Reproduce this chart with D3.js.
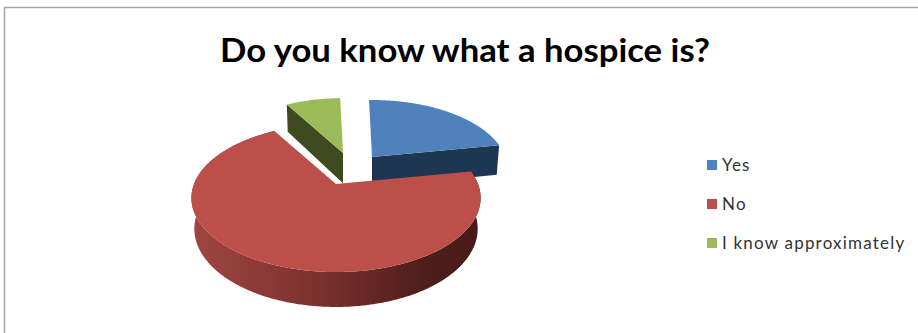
<!DOCTYPE html>
<html>
<head>
<meta charset="utf-8">
<script src="https://cdn.jsdelivr.net/npm/d3@7"></script>
<style>
  html, body { margin: 0; padding: 0; background: #fff; }
  svg { display: block; }
</style>
</head>
<body>
<svg id="chart" width="918" height="333"></svg>
<script>
const categories = ["Yes", "No", "I know approximately"];
const shares = [22.5, 69.5, 8];
const chartTitle = "Do you know what a hospice is?";

const topColors = ["#4f81bd", "#bd4f4b", "#9bbb59"];
const wallColors = ["#1f3653", "#a04643", "#3f4a20"];

// Exploded pie: each wedge has its own apex, and wedges that are pulled out are drawn smaller.
const pieCentre = { x: 336, y: 184 };
const wedgeLayout = [
  { dx: 36, dy: -27, scale: 0.94 },
  { dx: 0, dy: 0, scale: 1 },
  { dx: 7, dy: -31, scale: 0.9 }
];

// Perspective camera for a unit disc lying on a plane tilted away from the viewer.
const camera = { k: 142, b: 71.4, p: 0.189, q: 0.02, depth: 30.8 };

function project(angle, radius, z, wedge) {
  const px = Math.sin(angle) * radius * wedge.scale;
  const py = -Math.cos(angle) * radius * wedge.scale;
  const w = 1 - camera.p * py + camera.q * z;
  return [
    pieCentre.x + wedge.dx + camera.k * px / w,
    pieCentre.y + wedge.dy + (camera.b * py + camera.depth * z) / w
  ];
}

const svg = d3.select("#chart");
const line = d3.line();

const pie = d3.pie().sort(null).value(d => d)
  .startAngle(-1.5 * Math.PI / 180)
  .endAngle(358.5 * Math.PI / 180);
const arcs = pie(shares);

function arcPoints(a0, a1, z, wedge) {
  const n = Math.max(2, Math.ceil((a1 - a0) / 0.01));
  return d3.range(n + 1).map(i => project(a0 + (a1 - a0) * i / n, 1, z, wedge));
}

// Chart area frame, open on the right and at the bottom
svg.append("path")
  .attr("d", "M4.5,333V7.5H918")
  .attr("fill", "none")
  .attr("stroke", "#a6a6a6")
  .attr("stroke-width", 1.5);

svg.append("text")
  .attr("x", 465)
  .attr("y", 62)
  .attr("text-anchor", "middle")
  .attr("font-family", "Lato, sans-serif")
  .attr("font-weight", 700)
  .attr("font-size", 33)
  .attr("textLength", 490)
  .attr("lengthAdjust", "spacingAndGlyphs")
  .attr("fill", "#000")
  .text(chartTitle);

// Shading across the curved outer wall of the large wedge
const defs = svg.append("defs");
const grad = defs.append("linearGradient").attr("id", "wall-no")
  .attr("gradientUnits", "userSpaceOnUse")
  .attr("x1", 190).attr("x2", 480).attr("y1", 0).attr("y2", 0);
[[0, wallColors[1]], [0.45, "#7a302d"], [0.8, "#4f1e1c"], [1, "#471a18"]].forEach(([o, c]) =>
  grad.append("stop").attr("offset", o).attr("stop-color", c));

// Back wedges first, the large one goes over them
[0, 2, 1].forEach(i => {
  const a = arcs[i];
  const wedge = wedgeLayout[i];
  const apex = project(0, 0, 0, wedge);
  const apexLow = project(0, 0, 1, wedge);

  if (i === 1) {
    const wall = arcPoints(a.startAngle, a.endAngle, 0, wedge)
      .concat(arcPoints(a.startAngle, a.endAngle, 1, wedge).reverse());
    svg.append("path").attr("d", line(wall) + "Z").attr("fill", "url(#wall-no)");
  } else {
    // Straight cut face that looks towards the viewer
    const cut = i === 0 ? a.endAngle : a.startAngle;
    svg.append("path")
      .attr("d", line([apex, project(cut, 1, 0, wedge), project(cut, 1, 1, wedge), apexLow]) + "Z")
      .attr("fill", wallColors[i]);
  }

  svg.append("path")
    .attr("d", line([apex].concat(arcPoints(a.startAngle, a.endAngle, 0, wedge))) + "Z")
    .attr("fill", topColors[i]);
});

// Legend
const legendY = d3.scalePoint().domain(categories).range([165, 243]);
const legend = svg.selectAll("g.legend").data(categories).join("g")
  .attr("class", "legend")
  .attr("transform", d => `translate(707,${legendY(d)})`);
legend.append("rect")
  .attr("x", 0).attr("y", -5).attr("width", 10).attr("height", 10)
  .attr("fill", (d, i) => topColors[i]);
legend.append("text")
  .attr("x", 15).attr("y", 6)
  .attr("font-family", "Lato, sans-serif")
  .attr("font-size", 17)
  .attr("letter-spacing", 1.2)
  .attr("fill", "#333")
  .text(d => d);
</script>
</body>
</html>
